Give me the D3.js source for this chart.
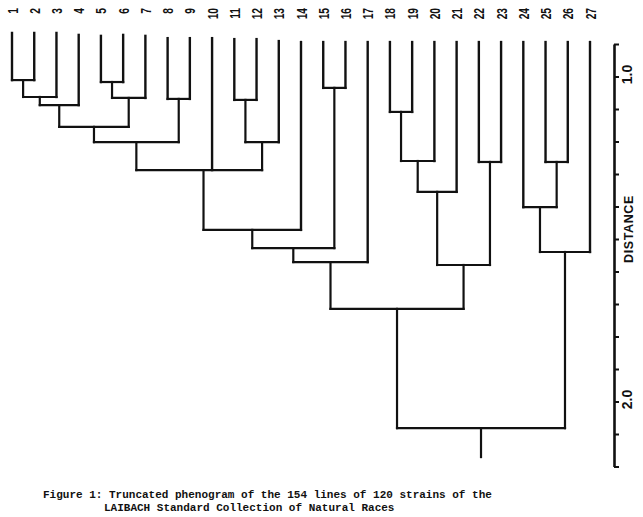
<!DOCTYPE html>
<html>
<head>
<meta charset="utf-8">
<script src="https://cdn.jsdelivr.net/npm/d3@7"></script>
<style>
  html, body { margin: 0; padding: 0; background: #fff; }
  svg { display: block; }
</style>
</head>
<body>
<svg id="chart" width="643" height="517"></svg>
<script>
// ---- data ----
const leaves = ["1","2","3","4","5","6","7","8","9","10","11","12","13","14",
                "15","16","17","18","19","20","21","22","23","24","25","26","27"];
// distance at which each leaf line starts (top of the truncated branches)
const leafStart = [0.866,0.866,0.866,0.872,0.875,0.872,0.875,0.882,0.882,0.882,0.885,0.885,0.891,0.894,
                   0.894,0.894,0.894,0.894,0.894,0.894,0.894,0.894,0.894,0.894,0.894,0.894,0.894];
const mergeNames = ["A","B","C","D","E","F","G","H","I","J","K","L","M","N","O","P","Q","R","S","T","U","V","W","X","ROOT"];
const mergeChildren = [
  ["1","2"], ["A","3"], ["B","4"], ["5","6"], ["D","7"], ["C","E"], ["8","9"], ["F","G"],
  ["11","12"], ["I","13"], ["H","10","J"], ["K","14"], ["15","16"], ["L","M"], ["N","17"],
  ["18","19"], ["P","20"], ["Q","21"], ["22","23"], ["R","S"], ["O","T"],
  ["25","26"], ["24","V"], ["W","27"], ["U","X"]
];
const mergeHeights = [1.011,1.063,1.088,1.017,1.066,1.155,1.069,1.202,
                      1.072,1.202,1.288,1.472,1.035,1.528,1.571,
                      1.109,1.260,1.355,1.263,1.580,1.715,
                      1.263,1.402,1.540,2.082];
const rootStemEnd = 2.171;
const axisTicks = [0.9,1.0,1.1,1.2,1.3,1.4,1.5,1.6,1.7,1.8,1.9,2.0,2.1,2.2];
const axisLabelValues = [1.0, 2.0];
const axisLabelTexts = ["1.0", "2.0"];
const axisTitle = "DISTANCE";
const captionLines = [
  "Figure 1: Truncated phenogram of the 154 lines of 120 strains of the",
  "LAIBACH Standard Collection of Natural Races"
];

// ---- scales ----
const svg = d3.select("#chart");
const y = d3.scaleLinear().domain([0.9, 2.2]).range([44, 466.5]);
const x = d3.scalePoint().domain(leaves).range([12, 590]);

// node positions
const pos = {};
leaves.forEach((l, i) => { pos[l] = { x: x(l), top: y(leafStart[i]) }; });
const segs = [];
mergeNames.forEach((n, i) => {
  const kids = mergeChildren[i];
  const yy = y(mergeHeights[i]);
  const xs = kids.map(k => pos[k].x);
  kids.forEach(k => segs.push({ x1: pos[k].x, y1: pos[k].top, x2: pos[k].x, y2: yy, leaf: leaves.includes(k) }));
  segs.push({ x1: d3.min(xs), y1: yy, x2: d3.max(xs), y2: yy });
  pos[n] = { x: d3.mean(xs), top: yy };
});
segs.push({ x1: pos["ROOT"].x, y1: pos["ROOT"].top, x2: pos["ROOT"].x, y2: y(rootStemEnd) });

const g = svg.append("g");
g.selectAll("line.branch").data(segs).join("line")
  .attr("class", "branch")
  .attr("x1", d => d.x1).attr("y1", d => d.y1)
  .attr("x2", d => d.x2).attr("y2", d => d.y2)
  .attr("stroke", "#111")
  .attr("stroke-width", d => d.leaf ? 2.4 : 2.2)
  .attr("stroke-linecap", "square");

// leaf labels (rotated, reading bottom to top)
g.selectAll("text.leaf").data(leaves).join("text")
  .attr("class", "leaf")
  .attr("transform", d => `translate(${x(d) + 5.5},8) rotate(-90) scale(0.68,1)`)
  .attr("text-anchor", "end")
  .attr("font-family", "'Liberation Sans', Arial, sans-serif")
  .attr("font-weight", "bold")
  .attr("font-size", 15)
  .attr("fill", "#111")
  .text(d => d);

// axis
const ax = svg.append("g")
  .attr("transform", "translate(614,0)")
  .call(d3.axisRight(y).tickValues(axisTicks).tickSize(5).tickSizeOuter(0).tickFormat(""));
ax.select(".domain").attr("stroke", "#111").attr("stroke-width", 2.6);
ax.selectAll(".tick line").attr("stroke", "#111").attr("stroke-width", 2);

svg.selectAll("text.axlab").data(axisLabelValues).join("text")
  .attr("class", "axlab")
  .attr("transform", d => `translate(632,${y(d) - 2}) rotate(-90)`)
  .attr("text-anchor", "middle")
  .attr("font-family", "'Liberation Sans', Arial, sans-serif")
  .attr("font-weight", "bold")
  .attr("font-size", 14)
  .attr("fill", "#111")
  .text((d, i) => axisLabelTexts[i]);

svg.append("text")
  .attr("transform", `translate(632.5,229) rotate(-90)`)
  .attr("text-anchor", "middle")
  .attr("font-family", "'Liberation Sans', Arial, sans-serif")
  .attr("font-weight", "bold")
  .attr("font-size", 12.5)
  .attr("letter-spacing", 0.6)
  .attr("fill", "#111")
  .text(axisTitle);

// caption
svg.selectAll("text.cap").data(captionLines).join("text")
  .attr("class", "cap")
  .attr("x", (d, i) => i === 0 ? 43 : 104)
  .attr("y", (d, i) => i === 0 ? 498 : 511)
  .attr("font-family", "'Liberation Mono', 'DejaVu Sans Mono', monospace")
  .attr("font-weight", "bold")
  .attr("font-size", 11)
  .attr("fill", "#111")
  .text(d => d);
</script>
</body>
</html>
